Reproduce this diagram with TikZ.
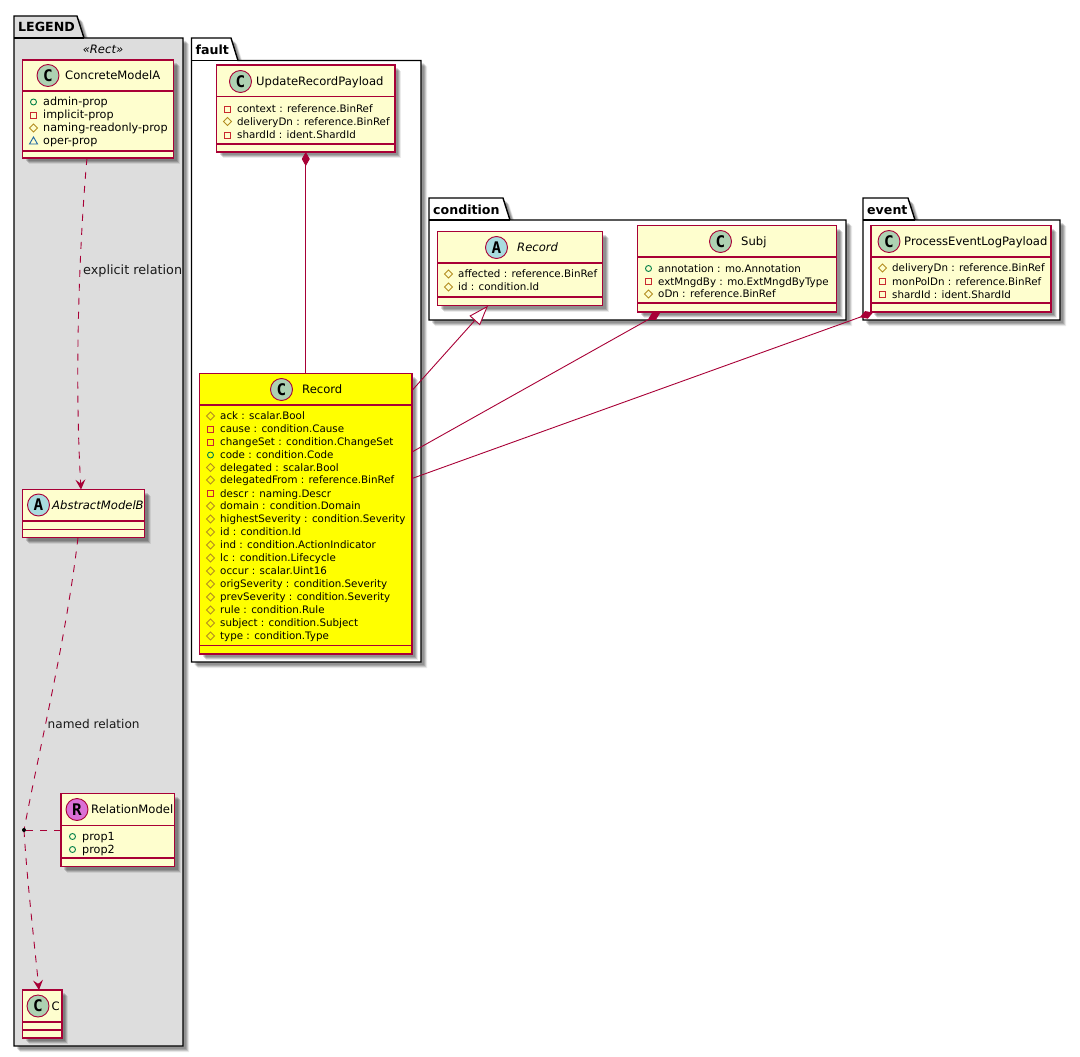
\documentclass[tikz,border=0pt]{standalone}
\usepackage{fontspec}
\setmainfont{DejaVu Sans}
\newfontfamily\spotfont{DejaVu Sans Mono}
\usetikzlibrary{arrows.meta,shadows}
\definecolor{umlred}{HTML}{A80036}
\definecolor{umlfill}{HTML}{FEFECE}
\definecolor{legendgray}{HTML}{DDDDDD}
\definecolor{recyellow}{HTML}{FFFF00}
\definecolor{spotc}{HTML}{ADD1B2}
\definecolor{spota}{HTML}{A9DCDF}
\definecolor{spotr}{HTML}{DA70D6}
\definecolor{vispub}{HTML}{038048}
\definecolor{vispriv}{HTML}{C82930}
\definecolor{visprot}{HTML}{B38D22}
\definecolor{vispkg}{HTML}{1963A0}
\newcounter{nn}
\tikzset{
  softshadow/.style={
    general shadow={shadow xshift=6pt,shadow yshift=-6pt,fill=black,fill opacity=.08},
    general shadow={shadow xshift=5pt,shadow yshift=-5pt,fill=black,fill opacity=.14},
    general shadow={shadow xshift=4pt,shadow yshift=-4pt,fill=black,fill opacity=.16},
    general shadow={shadow xshift=3pt,shadow yshift=-3pt,fill=black,fill opacity=.14}},
  classbox/.style={draw=umlred,line width=1.3pt,rectangle,inner sep=0pt,outer sep=0pt,softshadow},
  sepline/.style={draw=umlred,line width=1.3pt},
  pkgline/.style={draw=black,line width=1.4pt,line join=miter},
  spot/.style={circle,draw=umlred,line width=.9pt,minimum size=22pt,inner sep=0pt,font=\fontsize{16}{16}\spotfont\bfseries\selectfont},
  attrtext/.style={anchor=base west,inner sep=0pt},
  nametext/.style={anchor=base west,inner sep=0pt,font=\fontsize{11.6}{14}\selectfont},
  pkgtext/.style={anchor=base west,inner sep=0pt,font=\fontsize{12.6}{15}\bfseries\selectfont},
  labeltext/.style={anchor=base west,inner sep=0pt,text=black!90},
  rel/.style={draw=umlred,line width=.9pt},
  dashrel/.style={rel,dash pattern=on 7pt off 7pt},
  vee/.style={-{Stealth[length=10pt,width=10pt,inset=4pt,color=umlred,fill=umlred]}},
  compo/.style={-{Diamond[length=14pt,width=8pt,color=umlred,fill=umlred]}},
  extends/.style={-{Triangle[open,length=20pt,width=14pt,color=umlred,fill=white]}},
}
% name, x0, y0, x1, y1, sep1, sep2, fill
\newcommand{\umlclass}[8]{%
  \node[classbox,fill=#8,minimum width=#4pt-#2pt,minimum height=#5pt-#3pt] (#1) at ({(#2+#4)/2},{(#3+#5)/2}) {};
  \draw[sepline] (#2,#6) -- (#4,#6);
  \draw[sepline] (#2,#7) -- (#4,#7);
}
\newcommand{\umlspot}[4]{\stepcounter{nn}\node[spot,fill=#3] (s\thenn) at (#1,#2) {#4};}
\newcommand{\umlname}[4][]{\stepcounter{nn}\node[nametext,#1] (c\thenn) at (#2,#3) {#4};}
\newcommand{\visicon}[3]{%
  \ifcase#1\relax
    \draw[vispub,line width=.9pt] (#2,#3) circle (3pt);
  \or
    \draw[vispriv,line width=.9pt] (#2-3,#3-3) rectangle (#2+3,#3+3);
  \or
    \draw[visprot,line width=.9pt] (#2-4,#3) -- (#2,#3-4) -- (#2+4,#3) -- (#2,#3+4) -- cycle;
  \or
    \draw[vispkg,line width=.9pt] (#2-4,#3+3) -- (#2,#3-4) -- (#2+4,#3+3) -- cycle;
  \fi}
% [size], kind, icon x, y centre, text
\newcommand{\attr}[5][10.3]{%
  \visicon{#2}{#3}{#4}
  \stepcounter{nn}\node[attrtext,font=\fontsize{#1}{13}\selectfont] (a\thenn) at (#3+9.5,#4+3.7) {#5};}
\newcommand{\pkg}[8]{% name x0 y-tabtop y-bodytop tabright x1 y1 fill
  \path[pkgline,fill=#8,softshadow] (#2,#4) -- (#2,#3) -- (#5-7,#3) -- (#5,#4) -- (#6,#4) -- (#6,#7) -- (#2,#7) -- cycle;
  \draw[pkgline] (#2,#4) -- (#5,#4);
  \stepcounter{nn}\node[pkgtext] (p\thenn) at (#2+4,#4-6) {#1};}
\begin{document}
\begin{tikzpicture}[x=1pt,y=-1pt]
\useasboundingbox (0,0) rectangle (1080,1057);
% packages
\pkg{LEGEND}{14}{16}{38}{84}{183}{1046}{legendgray}
\pkg{fault}{191.5}{38}{60.5}{238}{421}{662}{white}
\pkg{condition}{429}{198}{220}{510}{846}{320}{white}
\pkg{event}{863}{198}{220}{915}{1060}{320}{white}
\node[anchor=base,inner sep=0pt,font=\fontsize{11.6}{14}\itshape\selectfont] (stereo) at (103,53.5) {«Rect»};
% classes
\umlclass{concrete}{22.5}{60}{173.5}{158}{91}{151}{umlfill}
\umlclass{abstract}{22.5}{489.5}{144.5}{537.5}{521}{529.5}{umlfill}
\umlclass{relmodel}{61}{793.5}{174.5}{866.5}{825.5}{858}{umlfill}
\umlclass{cc}{22.5}{990}{62}{1038}{1022}{1030}{umlfill}
\umlclass{update}{216.5}{65}{395}{152}{96.7}{144}{umlfill}
\umlclass{record}{199.5}{373.5}{412}{654}{405}{645.7}{recyellow}
\umlclass{crecord}{437.5}{231.5}{602.5}{305.5}{263}{297}{umlfill}
\umlclass{subj}{637.5}{225.5}{836.5}{312}{257}{303}{umlfill}
\umlclass{pelp}{871}{225.5}{1051}{312}{257}{303}{umlfill}
% spots and names
\umlspot{48}{75.5}{spotc}{C}\umlname{65}{79.5}{ConcreteModelA}
\umlspot{38.5}{505}{spota}{A}\umlname[font=\fontsize{11.6}{14}\itshape\selectfont]{52}{509}{AbstractModelB}
\umlspot{77}{809.5}{spotr}{R}\umlname{91}{813.5}{RelationModel}
\umlspot{38}{1006}{spotc}{C}\umlname{51.5}{1010}{C}
\umlspot{240.5}{81.5}{spotc}{C}\umlname{256}{85.5}{UpdateRecordPayload}
\umlspot{281.5}{389.5}{spotc}{C}\umlname{302}{393.5}{Record}
\umlspot{496.5}{247.5}{spota}{A}\umlname[font=\fontsize{11.6}{14}\itshape\selectfont]{517}{251.5}{Record}
\umlspot{720.5}{241.5}{spotc}{C}\umlname{741}{245.5}{Subj}
\umlspot{889}{241.5}{spotc}{C}\umlname{904}{245.5}{ProcessEventLogPayload}
% attributes
\attr[11.2]{0}{33.5}{102}{admin-prop}
\attr[11.2]{1}{33.5}{115}{implicit-prop}
\attr[11.2]{2}{33.5}{128}{naming-readonly-prop}
\attr[11.2]{3}{33.5}{141}{oper-prop}
\attr[11.2]{0}{72.5}{836.5}{prop1}
\attr[11.2]{0}{72.5}{849.5}{prop2}
\attr{1}{227.5}{109}{context : reference.BinRef}
\attr{2}{227.5}{121.5}{deliveryDn : reference.BinRef}
\attr{1}{227.5}{135}{shardId : ident.ShardId}
\attr{2}{210.5}{416}{ack : scalar.Bool}
\attr{1}{210.5}{429}{cause : condition.Cause}
\attr{1}{210.5}{442}{changeSet : condition.ChangeSet}
\attr{0}{210.5}{455}{code : condition.Code}
\attr{2}{210.5}{467.5}{delegated : scalar.Bool}
\attr{2}{210.5}{480}{delegatedFrom : reference.BinRef}
\attr{1}{210.5}{493.5}{descr : naming.Descr}
\attr{2}{210.5}{506}{domain : condition.Domain}
\attr{2}{210.5}{519}{highestSeverity : condition.Severity}
\attr{2}{210.5}{532}{id : condition.Id}
\attr{2}{210.5}{545}{ind : condition.ActionIndicator}
\attr{2}{210.5}{558}{lc : condition.Lifecycle}
\attr{2}{210.5}{571}{occur : scalar.Uint16}
\attr{2}{210.5}{584}{origSeverity : condition.Severity}
\attr{2}{210.5}{597}{prevSeverity : condition.Severity}
\attr{2}{210.5}{610}{rule : condition.Rule}
\attr{2}{210.5}{623}{subject : condition.Subject}
\attr{2}{210.5}{636}{type : condition.Type}
\attr{2}{448.5}{274}{affected : reference.BinRef}
\attr{2}{448.5}{287}{id : condition.Id}
\attr{0}{648.5}{268.5}{annotation : mo.Annotation}
\attr{1}{648.5}{281.5}{extMngdBy : mo.ExtMngdByType}
\attr{2}{648.5}{294}{oDn : reference.BinRef}
\attr{2}{882.5}{268}{deliveryDn : reference.BinRef}
\attr{1}{882.5}{281.5}{monPolDn : reference.BinRef}
\attr{1}{882.5}{294.5}{shardId : ident.ShardId}
% free-end coordinates on the class borders
\coordinate (cA) at (87,158);
\coordinate (aIn) at (81,489.5);
\coordinate (aOut) at (78,537.5);
\coordinate (joint) at (24,830);
\coordinate (cIn) at (39,990);
\coordinate (relIn) at (61,830);
\coordinate (recI) at (412,390.5);
\coordinate (recS) at (412,452);
\coordinate (recE) at (412,478.5);
\coordinate (crecTip) at (488,305.7);
\coordinate (subjTip) at (660,313);
\coordinate (pelpTip) at (873,312.5);
% connectors
\draw[dashrel,vee] (cA) .. controls (80,235) and (74,370) .. (aIn);
\draw[dashrel] (aOut) .. controls (66,640) and (40,745) .. (joint);
\draw[dashrel,vee] (joint) .. controls (27,880) and (34,940) .. (cIn);
\draw[dashrel] (relIn) -- (joint);
\fill[black] (joint) circle (2pt);
\draw[rel,compo] (record.north) -- (update.south);
\draw[rel,extends] (recI) -- (crecTip);
\draw[rel,compo] (recS) -- (subjTip);
\draw[rel,compo] (recE) -- (pelpTip);
% connector labels
\node[labeltext,font=\fontsize{12.8}{15}\selectfont] (lab1) at (83,274) {explicit relation};
\node[labeltext,font=\fontsize{12.1}{15}\selectfont] (lab2) at (47.5,728) {named relation};
\end{tikzpicture}
\end{document}
